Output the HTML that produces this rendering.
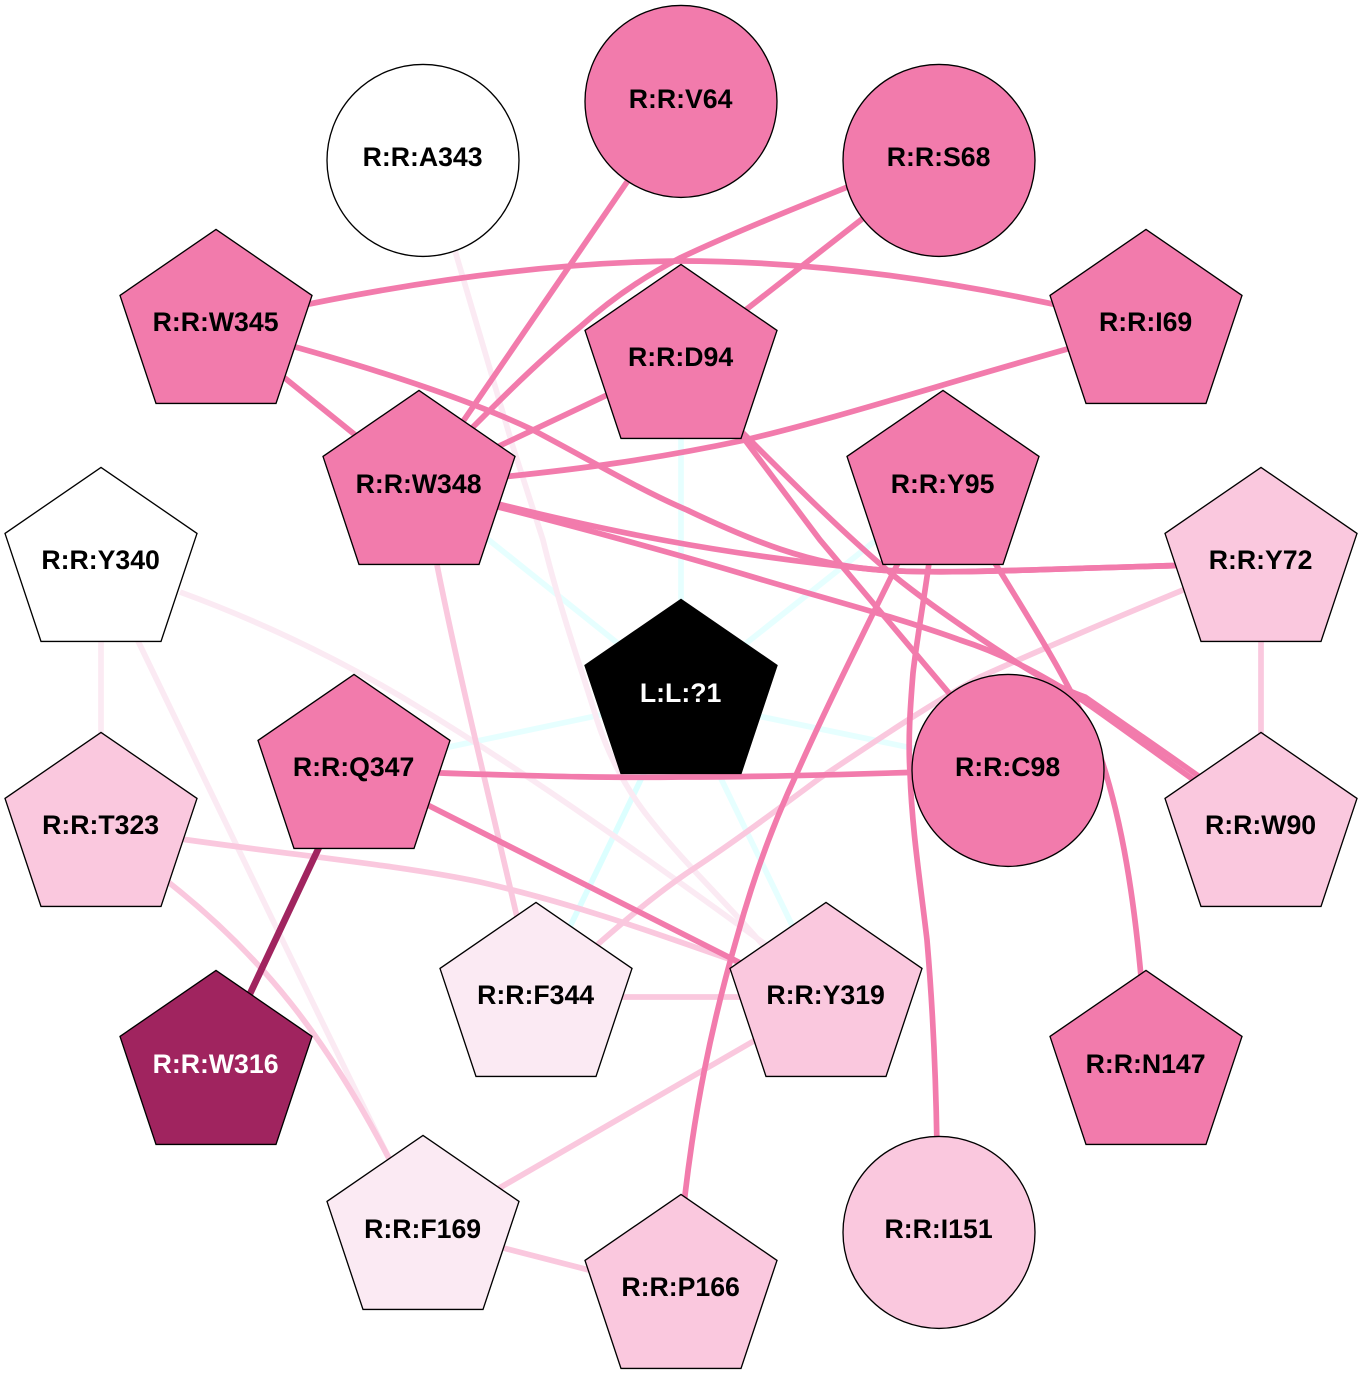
<!DOCTYPE html>
<html><head><meta charset="utf-8"><style>
html,body{margin:0;padding:0;background:#fff}
svg{display:block}
text{font-family:"Liberation Sans",sans-serif;font-weight:bold;font-size:26.67px;text-anchor:middle;fill:#000}
.e{fill:none;stroke-width:5.7}
.m{stroke:#f27bac}.l{stroke:#fac8de}.x{stroke:#fbeaf3}.c{stroke:#e6ffff}.c2{stroke:#dcffff}
.n{stroke:#000;stroke-width:1.33}
</style></head><body>
<svg width="1362" height="1392" viewBox="0 0 1362 1392" xmlns="http://www.w3.org/2000/svg">
<rect width="1362" height="1392" fill="#fff"/>
<g class="e">
<path class="c" d="M419,484L681,694"/>
<path class="c" d="M681,350V686"/>
<path class="c" d="M943,487L681,695"/>
<path class="c" d="M354,767L681,698"/>
<path class="c" d="M1008,768L681,700"/>
<path class="c2" d="M540,989L682,694"/>
<path class="c" d="M823,989L680,694"/>
<path class="x" d="M101,600V760"/>
<path class="x" d="M138,641C210,790 320,1020 400,1180"/>
<path class="x" d="M180,592C270,625 350,665 420,708C530,775 650,860 780,955"/>
<path class="x" d="M440,200L513,447L543,540C560,610 585,680 597,720C610,760 630,795 653,823C690,870 730,905 780,965"/>
<path class="l" d="M1261,600V760"/>
<path class="l" d="M437,565C460,680 490,800 520,930"/>
<path class="l" d="M600,997H760"/>
<path class="l" d="M1200,583C1110,620 1040,650 980,677C920,710 870,745 820,778C770,815 730,845 687,873C655,895 625,920 580,960"/>
<path class="l" d="M160,836C290,855 400,865 480,882C580,905 660,935 760,970"/>
<path class="l" d="M150,868C260,950 330,1040 400,1180"/>
<path class="l" d="M790,1020L470,1205"/>
<path class="l" d="M480,1242L620,1278"/>
<path class="m" d="M640,163L440,455"/>
<path class="m" d="M870,178C810,202 735,232 680,258C645,276 610,300 580,327C540,360 505,395 473,427L440,460"/>
<path class="m" d="M880,205L720,330"/>
<path class="m" d="M280,310C440,276 570,262 680,261C800,261 930,276 1080,310"/>
<path class="m" d="M260,358L380,455"/>
<path class="m" d="M270,340C380,370 470,400 533,430C590,460 640,490 687,510C750,540 810,565 880,570C950,575 1060,568 1200,565"/>
<path class="m" d="M470,497C600,530 720,555 880,570C950,575 1060,568 1200,565"/>
<path class="m" d="M470,500C560,522 680,555 753,577C830,600 900,618 960,640C1010,656 1050,680 1085,702C1125,730 1165,760 1225,802"/>
<path class="m" d="M720,410L745,435C790,480 845,535 893,575C930,605 970,632 1010,658C1035,675 1060,688 1085,697C1125,725 1165,752 1225,795"/>
<path class="m" d="M720,410L745,440L820,540L948,692L975,725"/>
<path class="m" d="M681,360L419,484"/>
<path class="m" d="M1100,340C960,378 850,415 745,440C660,458 580,470 470,480"/>
<path class="m" d="M990,555C1030,620 1075,690 1100,755C1122,820 1135,900 1143,1000"/>
<path class="m" d="M932,540C926,590 918,630 913,673C910,710 908,740 910,773C912,830 920,880 927,940C933,1010 936,1080 937,1150"/>
<path class="m" d="M915,530L897,565C860,640 825,710 797,773C770,830 750,890 737,937C710,1030 695,1110 685,1195L683,1230"/>
<path class="m" d="M410,772C560,777 620,778 681,777C760,777 840,775 950,771"/>
<path class="m" d="M390,786L770,978"/>
<path d="M330,824L240,1015" stroke="#a0245f" stroke-width="6.7"/>
</g>
<g transform="translate(0,.4)">
<g class="n" fill="#f27bac">
<polygon points="216,229 312,295 276,403 156,403 120,295"/>
<polygon points="1146,229 1242,295 1206,403 1086,403 1050,295"/>
<polygon points="681,264 777,330 741,438 621,438 585,330"/>
<polygon points="419,390 515,456 479,564 359,564 323,456"/>
<polygon points="943,390 1039,456 1003,564 883,564 847,456"/>
<polygon points="354,674 450,740 414,848 294,848 258,740"/>
<polygon points="1146,970 1242,1036 1206,1144 1086,1144 1050,1036"/>
<circle cx="681" cy="101" r="96"/>
<circle cx="939" cy="160" r="96"/>
<circle cx="1008" cy="770" r="96"/>
</g>
<g class="n" fill="#fac8de">
<polygon points="1261,467 1357,533 1321,641 1201,641 1165,533"/>
<polygon points="101,732 197,798 161,906 41,906 5,798"/>
<polygon points="1261,732 1357,798 1321,906 1201,906 1165,798"/>
<polygon points="826,902 922,968 886,1076 766,1076 730,968"/>
<polygon points="681,1194 777,1260 741,1368 621,1368 585,1260"/>
<circle cx="939" cy="1232" r="96"/>
</g>
<g class="n" fill="#fbeaf3">
<polygon points="536,902 632,968 596,1076 476,1076 440,968"/>
<polygon points="423,1135 519,1201 483,1309 363,1309 327,1201"/>
</g>
<g class="n" fill="#fff">
<polygon points="101,467 197,533 161,641 41,641 5,533"/>
<circle cx="423" cy="160" r="96"/>
</g>
<polygon class="n" fill="#a0245f" points="216,970 312,1036 276,1144 156,1144 120,1036"/>
<polygon class="n" fill="#000" points="681,599 777,665 741,773 621,773 585,665"/>
</g>
<g transform="translate(-.4,-1)">
<text x="681" y="109">R:R:V64</text>
<text x="423" y="167">R:R:A343</text>
<text x="939" y="167">R:R:S68</text>
<text x="216" y="332">R:R:W345</text>
<text x="1146" y="332">R:R:I69</text>
<text x="681" y="367">R:R:D94</text>
<text x="419" y="494">R:R:W348</text>
<text x="943" y="494">R:R:Y95</text>
<text x="101" y="570">R:R:Y340</text>
<text x="1261" y="570">R:R:Y72</text>
<text x="681" y="703" style="fill:#fff">L:L:?1</text>
<text x="354" y="777">R:R:Q347</text>
<text x="1008" y="777">R:R:C98</text>
<text x="101" y="835">R:R:T323</text>
<text x="1261" y="835">R:R:W90</text>
<text x="536" y="1005">R:R:F344</text>
<text x="826" y="1005">R:R:Y319</text>
<text x="216" y="1074" style="fill:#fff">R:R:W316</text>
<text x="1146" y="1074">R:R:N147</text>
<text x="423" y="1239">R:R:F169</text>
<text x="939" y="1239">R:R:I151</text>
<text x="681" y="1297">R:R:P166</text>
</g>
</svg>
</body></html>
